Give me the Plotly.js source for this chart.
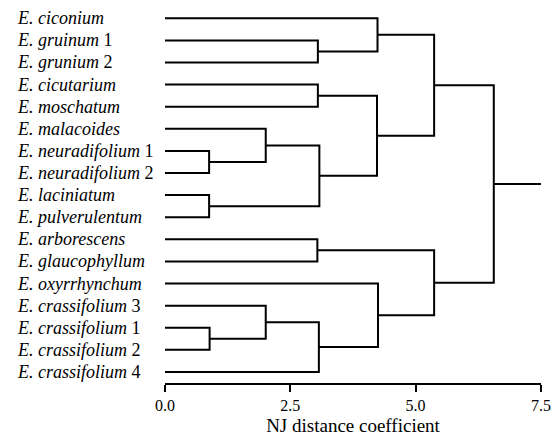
<!DOCTYPE html>
<html>
<head>
<meta charset="utf-8">
<script src="https://cdn.plot.ly/plotly-3.0.1.min.js"></script>
<style>html,body{margin:0;padding:0;background:#fff;}#chart{width:552px;height:441px;}</style>
</head>
<body>
<div id="chart"></div>
<script>
// Leaves, top to bottom
const genus = "E.";
const species = ["ciconium","gruinum","grunium","cicutarium","moschatum","malacoides",
  "neuradifolium","neuradifolium","laciniatum","pulverulentum","arborescens","glaucophyllum",
  "oxyrrhynchum","crassifolium","crassifolium","crassifolium","crassifolium"];
const accession = ["","1","2","","","","1","2","","","","","","3","1","2","4"];

// Merges: indices < 17 are leaves, >= 17 are earlier merges (17 = first merge)
const mergeLeft   = [1, 0, 3, 6, 5, 8, 21, 19, 18, 10, 14, 13, 28, 12, 26, 25];
const mergeRight  = [2, 17, 4, 7, 20, 9, 22, 23, 24, 11, 15, 27, 16, 29, 30, 31];
const mergeHeight = [3.05, 4.24, 3.05, 0.88, 2.01, 0.88, 3.08, 4.23, 5.37, 3.04, 0.89, 2.01, 3.07, 4.25, 5.37, 6.56];

const xTicks = [0, 2.5, 5.0, 7.5];
const xMax = 7.5;

const nLeaf = species.length;
const nodeX = [], nodeY = [];
for (let i = 0; i < nLeaf; i++) { nodeX.push(0); nodeY.push(i); }
const xs = [], ys = [];
for (let k = 0; k < mergeHeight.length; k++) {
  const a = mergeLeft[k], b = mergeRight[k], h = mergeHeight[k];
  xs.push(nodeX[a], h, h, nodeX[b], null);
  ys.push(nodeY[a], nodeY[a], nodeY[b], nodeY[b], null);
  nodeX.push(h); nodeY.push((nodeY[a] + nodeY[b]) / 2);
}
const root = nodeX.length - 1;
xs.push(nodeX[root], xMax, null);
ys.push(nodeY[root], nodeY[root], null);

const FONT = 'Liberation Serif';
const L = 165, R = 11;

const annotations = species.map((s, i) => ({
  xref: 'paper', yref: 'y', x: (15 - L) / (552 - L - R), y: i,
  xanchor: 'left', yanchor: 'middle', showarrow: false,
  text: '<i>' + genus + ' ' + s + '</i>' + (accession[i] ? ' ' + accession[i] : ''),
  font: {family: FONT, size: 18, color: '#000'}
}));

Plotly.newPlot('chart', [{
  x: xs, y: ys, type: 'scatter', mode: 'lines',
  line: {color: '#000', width: 2}, hoverinfo: 'skip', cliponaxis: false, connectgaps: false
}], {
  width: 552, height: 441,
  margin: {l: L, r: R, t: 7, b: 58},
  paper_bgcolor: '#fff', plot_bgcolor: '#fff',
  showlegend: false,
  xaxis: {
    range: [0, xMax + 0.002], tickvals: xTicks, tickformat: '.1f',
    showline: true, linecolor: '#000', linewidth: 2,
    ticks: 'outside', ticklen: 7, tickwidth: 2, tickcolor: '#000',
    showgrid: false, zeroline: false, ticklabeloverflow: 'allow',
    tickfont: {family: FONT, size: 16, color: '#000'},
    title: {text: 'NJ distance coefficient', font: {family: FONT, size: 19, color: '#000'}, standoff: 5}
  },
  yaxis: {range: [16.5, -0.51], visible: false, showgrid: false, zeroline: false},
  annotations: annotations
}, {displayModeBar: false});
</script>
</body>
</html>
